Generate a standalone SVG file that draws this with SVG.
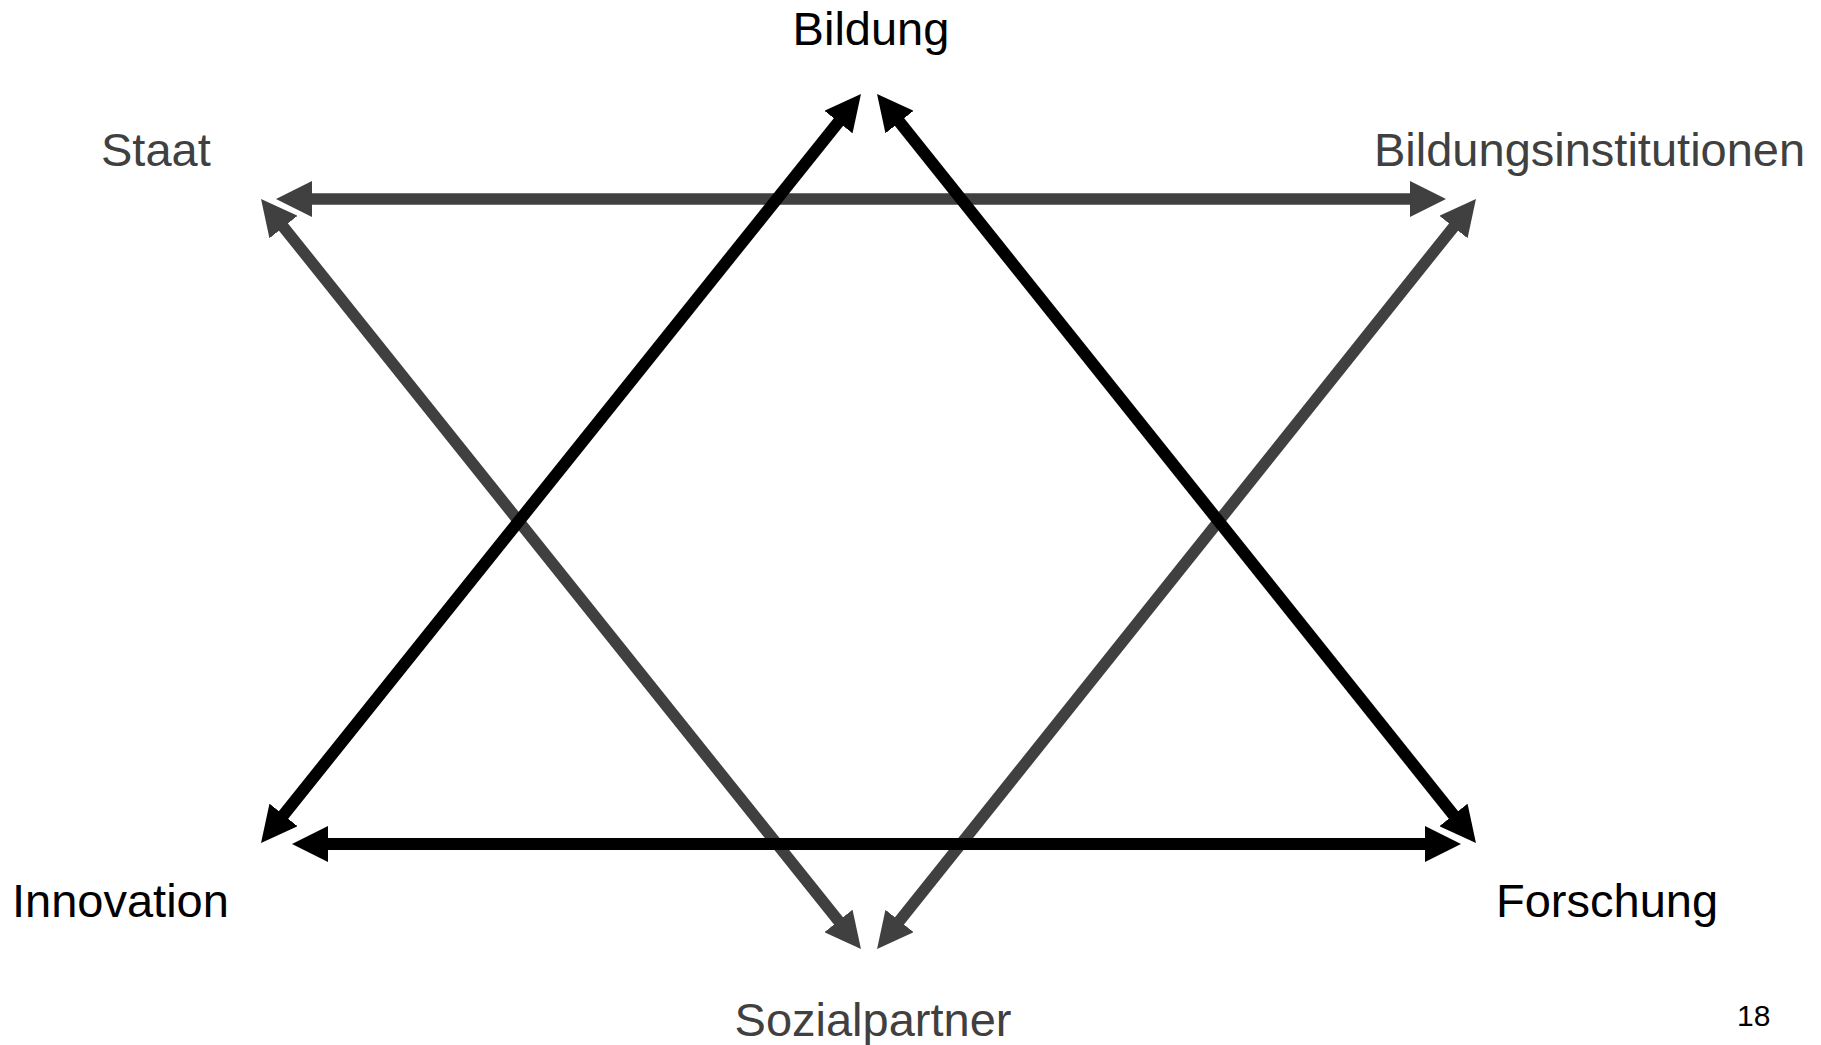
<svg xmlns="http://www.w3.org/2000/svg" width="1821" height="1045" viewBox="0 0 1821 1045">
<style>
text{font-family:"Liberation Sans",Arial,sans-serif;font-size:47px}
.k{fill:#000}
.g{fill:#404040}
.lk{stroke:#000;stroke-width:12;fill:none}
.lg{stroke:#404040;stroke-width:11.5;fill:none}
</style>
<defs>
<marker id="ak" markerUnits="userSpaceOnUse" markerWidth="36" markerHeight="36" refX="1" refY="18" orient="auto-start-reverse" viewBox="0 0 36 36"><path d="M0,0 L36,18 L0,36 Z" fill="#000"/></marker>
<marker id="ag" markerUnits="userSpaceOnUse" markerWidth="36" markerHeight="36" refX="1" refY="18" orient="auto-start-reverse" viewBox="0 0 36 36"><path d="M0,0 L36,18 L0,36 Z" fill="#404040"/></marker>
</defs>
<rect width="1821" height="1045" fill="#fff"/>
<g id="connectors">
<line class="lg" x1="311" y1="199" x2="1411" y2="199" marker-start="url(#ag)" marker-end="url(#ag)"/>
<line class="lg" x1="282.9" y1="226.3" x2="839.1" y2="921.7" marker-start="url(#ag)" marker-end="url(#ag)"/>
<line class="lg" x1="1454.1" y1="226.3" x2="898.9" y2="921.7" marker-start="url(#ag)" marker-end="url(#ag)"/>
<line class="lk" x1="327" y1="844" x2="1426" y2="844" marker-start="url(#ak)" marker-end="url(#ak)"/>
<line class="lk" x1="282.9" y1="815.7" x2="839.1" y2="121.3" marker-start="url(#ak)" marker-end="url(#ak)"/>
<line class="lk" x1="898.9" y1="121.3" x2="1454.1" y2="815.7" marker-start="url(#ak)" marker-end="url(#ak)"/>
</g>
<g id="bildung"><text class="k" x="871" y="45" text-anchor="middle">Bildung</text></g>
<g id="staat"><text class="g" x="101" y="166">Staat</text></g>
<g id="bildungsinstitutionen"><text class="g" x="1374" y="166">Bildungsinstitutionen</text></g>
<g id="innovation"><text class="k" x="12" y="917">Innovation</text></g>
<g id="forschung"><text class="k" x="1496" y="917">Forschung</text></g>
<g id="sozialpartner"><text class="g" x="873" y="1036" text-anchor="middle">Sozialpartner</text></g>
<g id="pagenum"><text class="k" x="1737" y="1026" style="font-size:30px">18</text></g>
</svg>
